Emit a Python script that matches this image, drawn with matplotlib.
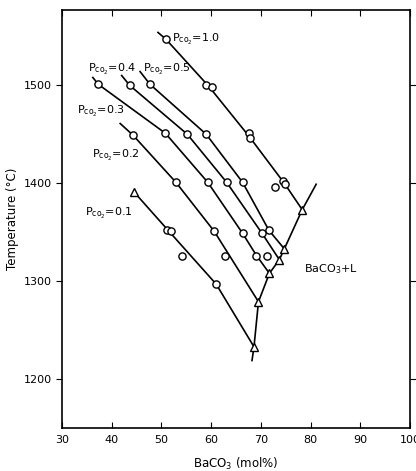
import matplotlib.pyplot as plt

# Pco2 = 0.1 ... 1.0 : open circles (measured), triangles on BaCO3+L boundary
p01_cx = [51.2, 51.9, 54.2, 61.0]
p01_cy = [1352, 1351, 1326, 1297]
p01_lx = [44.5, 51.5, 61.0, 68.6]
p01_ly = [1391, 1351, 1297, 1233]

p02_cx = [44.3, 52.9, 60.6, 62.8]
p02_cy = [1449, 1401, 1351, 1326]
p02_lx = [41.7, 44.3, 52.9, 60.6, 69.5]
p02_ly = [1461, 1449, 1401, 1351, 1279]

p03_cx = [37.3, 50.8, 59.3, 66.3, 69.0]
p03_cy = [1501, 1451, 1401, 1349, 1326]
p03_lx = [36.2, 37.3, 50.8, 59.3, 66.3, 69.0, 71.7]
p03_ly = [1508, 1501, 1451, 1401, 1349, 1327, 1308]

p04_cx = [43.6, 55.2, 63.1, 70.2, 71.2]
p04_cy = [1500, 1450, 1401, 1349, 1326]
p04_lx = [42.0, 43.6, 55.2, 63.1, 70.2, 73.7]
p04_ly = [1510, 1500, 1450, 1401, 1349, 1322]

p05_cx = [47.7, 59.0, 66.3, 71.6]
p05_cy = [1501, 1450, 1401, 1352]
p05_lx = [45.7, 47.7, 59.0, 66.3, 71.6, 74.7]
p05_ly = [1514, 1501, 1450, 1401, 1352, 1333]

p10_cx = [50.9, 58.9, 60.2, 67.5, 67.7, 74.5, 74.9, 72.9]
p10_cy = [1547, 1500, 1498, 1451, 1446, 1402, 1399, 1396]
p10_lx = [49.3, 50.9, 59.5, 67.6, 74.7, 78.3]
p10_ly = [1554, 1547, 1499, 1448, 1400, 1373]

tri_x = [44.5, 68.6, 69.5, 71.7, 73.7, 74.7, 78.3]
tri_y = [1391, 1233, 1279, 1308, 1322, 1333, 1373]

liq_x = [68.2, 68.6, 69.5, 71.7, 73.7, 74.7, 78.3, 81.1]
liq_y = [1219, 1233, 1279, 1308, 1322, 1333, 1373, 1399]

labels = ["0.1", "0.2", "0.3", "0.4", "0.5", "1.0"]
label_x = [34.6, 36.0, 33.0, 35.2, 46.3, 52.2]
label_y = [1369, 1428, 1473, 1516, 1516, 1547]

fig = plt.figure(figsize=(4.16, 4.71), dpi=100)
ax = fig.add_axes([0.149, 0.091, 0.837, 0.888])

lines = [(p01_lx, p01_ly), (p02_lx, p02_ly), (p03_lx, p03_ly),
         (p04_lx, p04_ly), (p05_lx, p05_ly), (p10_lx, p10_ly)]
for lx, ly in lines:
    ax.plot(lx, ly, color="black", lw=1.2)
ax.plot(liq_x, liq_y, color="black", lw=1.2)

circles = [(p01_cx, p01_cy), (p02_cx, p02_cy), (p03_cx, p03_cy),
           (p04_cx, p04_cy), (p05_cx, p05_cy), (p10_cx, p10_cy)]
for cx, cy in circles:
    ax.plot(cx, cy, "o", ms=5.2, mfc="white", mec="black", mew=1.0, ls="none")
ax.plot(tri_x, tri_y, "^", ms=6, mfc="white", mec="black", mew=1.0, ls="none")

for t, x, y in zip(labels, label_x, label_y):
    ax.text(x, y, r"P$_{\mathregular{co_2}}$=" + t, fontsize=8, va="center", ha="left")
ax.text(78.6, 1312, r"BaCO$_3$+L", fontsize=8, va="center", ha="left")

ax.set_xlim(30, 100)
ax.set_ylim(1150, 1577)
ax.set_xticks([30, 40, 50, 60, 70, 80, 90, 100])
ax.set_yticks([1200, 1300, 1400, 1500])
ax.tick_params(axis="x", direction="in", top=True, length=4, labelsize=8, pad=5)
ax.tick_params(axis="y", direction="out", right=True, length=4, labelsize=8)
for s in ax.spines.values():
    s.set_linewidth(1.2)

ax.set_xlabel("BaCO$_3$ (mol%)", fontsize=8.5, labelpad=8)
ax.set_ylabel("Temperature (°C)", fontsize=8.5, labelpad=3)

plt.savefig("out.png", dpi=100)
